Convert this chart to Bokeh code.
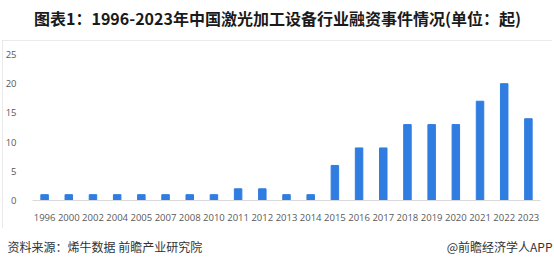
from bokeh.plotting import figure
from bokeh.layouts import column
from bokeh.models import Label, FactorRange, Range1d, ColumnDataSource, FixedTicker
from bokeh.embed import file_html
from bokeh.resources import INLINE

# Financing events in China's laser processing equipment industry, by year
years = ["1996", "2000", "2002", "2004", "2005", "2007", "2008", "2010", "2011", "2012",
         "2013", "2014", "2015", "2016", "2017", "2018", "2019", "2020", "2021", "2022", "2023"]
counts = [1, 1, 1, 1, 1, 1, 1, 1, 2, 2, 1, 1, 6, 9, 9, 13, 13, 13, 17, 20, 14]
y_ticks = [0, 5, 10, 15, 20, 25]

title_text = "图表1：1996-2023年中国激光加工设备行业融资事件情况(单位：起)"
source_text = "资料来源：烯牛数据 前瞻产业研究院"
brand_text = "@前瞻经济学人APP"

W = 554
TOP_H, MAIN_H, FOOT_H = 40, 188, 39
CJK = "Noto Sans CJK SC"


def text_strip(height):
    """A bare figure used only to carry a line of text, in pixel coordinates."""
    f = figure(width=W, height=height,
               x_range=Range1d(0, W), y_range=Range1d(height, 0),
               x_axis_type=None, y_axis_type=None,
               output_backend="svg", toolbar_location=None, min_border=0)
    f.min_border_left = f.min_border_right = 0
    f.min_border_top = f.min_border_bottom = 0
    f.frame_align = False
    f.outline_line_color = None
    f.background_fill_color = "white"
    f.border_fill_color = "white"
    return f


# title strip
top = text_strip(TOP_H)
top.add_layout(Label(x=W / 2, y=17, text=title_text,
                     text_align="center", text_baseline="middle",
                     text_font=CJK, text_font_style="bold",
                     text_font_size="16px", text_color="#1A1A1A"))

# bar chart
src = ColumnDataSource(data=dict(year=years, count=counts))
p = figure(width=W - 4, height=MAIN_H,
           x_range=FactorRange(*years, range_padding=0),
           y_range=Range1d(0, 25),
           output_backend="svg", toolbar_location=None,
           min_border_left=26, min_border_right=12,
           min_border_top=14, min_border_bottom=28)
p.frame_align = False
p.margin = (0, 2, 0, 2)
p.styles = {"outline": "1px solid #E3E3E3", "outline-offset": "-1px"}

p.vbar(x="year", top="count", width=0.31, source=src, color="#2F7DE1")

p.xgrid.visible = False
p.ygrid.visible = False
p.outline_line_color = None
p.background_fill_color = "white"
p.border_fill_color = "white"

label_font = "Open Sans"
p.xaxis.axis_line_color = "#D9D9D9"
p.xaxis.major_tick_line_color = None
p.xaxis.minor_tick_line_color = None
p.xaxis.major_label_text_font = label_font
p.xaxis.major_label_text_font_size = "9.5px"
p.xaxis.major_label_text_color = "#595959"
p.xaxis.major_label_standoff = 7

p.yaxis.ticker = FixedTicker(ticks=y_ticks)
p.yaxis.axis_line_color = None
p.yaxis.major_tick_line_color = None
p.yaxis.minor_tick_line_color = None
p.yaxis.major_label_text_font = label_font
p.yaxis.major_label_text_font_size = "9.5px"
p.yaxis.major_label_text_color = "#595959"
p.yaxis.major_label_standoff = 10

# source / brand footer
foot = text_strip(FOOT_H)
foot.add_layout(Label(x=7, y=18, text=source_text,
                      text_align="left", text_baseline="middle",
                      text_font=CJK, text_font_size="12px", text_color="#333333"))
foot.add_layout(Label(x=552, y=18, text=brand_text,
                      text_align="right", text_baseline="middle",
                      text_font=CJK, text_font_size="12px", text_color="#333333"))

page = column(top, p, foot, spacing=0)
open("out.html", "w").write(file_html(page, INLINE))
